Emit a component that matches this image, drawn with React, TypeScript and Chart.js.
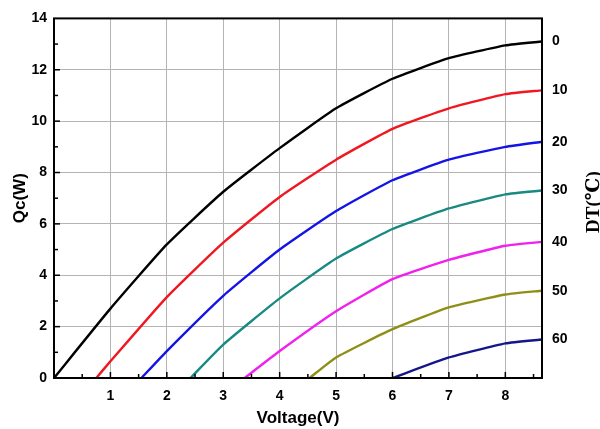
import React, { useEffect, useRef } from "react";
import { Chart, registerables } from "chart.js";

Chart.register(...registerables);

// ---- data ----
const dtLabels = ["0", "10", "20", "30", "40", "50", "60"];
const seriesColors = ["#000000", "#f01820", "#1414e6", "#178a82", "#f020ee", "#8f8f18", "#16168a"];

const dt0X = [0, 1, 2, 3, 4, 5, 6, 7, 8, 8.65];
const dt0Y = [0, 2.7, 5.2, 7.25, 8.95, 10.5, 11.65, 12.45, 12.95, 13.1];
const dt10X = [0.75, 1, 2, 3, 4, 5, 6, 7, 8, 8.65];
const dt10Y = [0, 0.65, 3.15, 5.27, 7.05, 8.5, 9.7, 10.5, 11.05, 11.2];
const dt20X = [1.55, 2, 3, 4, 5, 6, 7, 8, 8.65];
const dt20Y = [0, 1.05, 3.2, 5.0, 6.5, 7.7, 8.5, 9.0, 9.2];
const dt30X = [2.42, 3, 4, 5, 6, 7, 8, 8.65];
const dt30Y = [0, 1.3, 3.1, 4.65, 5.8, 6.6, 7.15, 7.3];
const dt40X = [3.38, 4, 5, 6, 7, 8, 8.65];
const dt40Y = [0, 1.05, 2.6, 3.85, 4.6, 5.15, 5.3];
const dt50X = [4.53, 5, 6, 7, 8, 8.65];
const dt50Y = [0, 0.8, 1.9, 2.75, 3.25, 3.4];
const dt60X = [6.0, 7, 8, 8.65];
const dt60Y = [0, 0.8, 1.35, 1.5];

const xTickValues = [1, 2, 3, 4, 5, 6, 7, 8];
const yTickValues = [0, 2, 4, 6, 8, 10, 12, 14];
const X_MIN = 0;
const X_MAX = 8.65;
const Y_MIN = 0;
const Y_MAX = 14;

const allX = [dt0X, dt10X, dt20X, dt30X, dt40X, dt50X, dt60X];
const allY = [dt0Y, dt10Y, dt20Y, dt30Y, dt40Y, dt50Y, dt60Y];

const AX_FONT = "'Liberation Sans', Arial, sans-serif";

const framePlugin = {
  id: "framePlugin",
  afterDatasetsDraw(chart: any) {
    const { ctx, chartArea } = chart;
    const xs = chart.scales.x;
    const ys = chart.scales.y;
    const { left, right, top, bottom } = chartArea;
    ctx.save();
    ctx.strokeStyle = "#000";
    ctx.lineWidth = 1.5;
    for (let v = 0.5; v < X_MAX; v += 0.5) {
      const px = xs.getPixelForValue(v);
      const len = Number.isInteger(v) ? 6 : 4;
      ctx.beginPath();
      ctx.moveTo(px, bottom);
      ctx.lineTo(px, bottom - len);
      ctx.stroke();
    }
    for (let v = 1; v < Y_MAX; v += 1) {
      const py = ys.getPixelForValue(v);
      const len = v % 2 === 0 ? 6 : 4;
      ctx.beginPath();
      ctx.moveTo(left, py);
      ctx.lineTo(left + len, py);
      ctx.stroke();
    }
    ctx.lineWidth = 2;
    ctx.strokeRect(left, top, right - left, bottom - top);
    ctx.restore();
  },
  afterDraw(chart: any) {
    const { ctx } = chart;
    ctx.save();
    ctx.translate(599, 202);
    ctx.rotate(-Math.PI / 2);
    ctx.fillStyle = "#000";
    ctx.font = "bold 19px 'Liberation Serif', 'DejaVu Serif', serif";
    ctx.textAlign = "center";
    ctx.textBaseline = "alphabetic";
    ctx.fillText("DT(\u2103)", 0, 0);
    ctx.restore();
  },
};

export default function App() {
  const ref = useRef<HTMLCanvasElement | null>(null);

  useEffect(() => {
    if (!ref.current) return;
    const endValues = allY.map((ys) => ys[ys.length - 1]);
    const chart = new Chart(ref.current, {
      type: "line",
      data: {
        datasets: allX.map((xs, i) => ({
          label: "DT " + dtLabels[i],
          data: xs.map((x, j) => ({ x, y: allY[i][j] })),
          borderColor: seriesColors[i],
          backgroundColor: seriesColors[i],
          borderWidth: 2.4,
          pointRadius: 0,
          tension: 0.15,
          fill: false,
          yAxisID: "y",
        })),
      },
      plugins: [framePlugin],
      options: {
        animation: false,
        responsive: false,
        devicePixelRatio: 1,
        layout: { padding: { top: 15, left: 0, right: 0, bottom: 0 } },
        plugins: { legend: { display: false }, tooltip: { enabled: false } },
        scales: {
          x: {
            type: "linear",
            min: X_MIN,
            max: X_MAX,
            afterBuildTicks: (s: any) => {
              s.ticks = xTickValues.map((v) => ({ value: v }));
            },
            afterFit: (s: any) => {
              s.height = 51;
            },
            grid: { color: "#b4b4b4", lineWidth: 1, drawTicks: false },
            border: { display: false },
            ticks: {
              padding: 10,
              color: "#000",
              font: { family: AX_FONT, size: 14, weight: "bold" },
              callback: (v: any) => String(v),
            },
            title: {
              display: true,
              text: "Voltage(V)",
              color: "#000",
              padding: { top: 0, bottom: 0 },
              font: { family: AX_FONT, size: 17, weight: "bold" },
            },
          },
          y: {
            type: "linear",
            position: "left",
            min: Y_MIN,
            max: Y_MAX,
            afterBuildTicks: (s: any) => {
              s.ticks = yTickValues.map((v) => ({ value: v }));
            },
            afterFit: (s: any) => {
              s.width = 54;
            },
            grid: { color: "#b4b4b4", lineWidth: 1, drawTicks: false },
            border: { display: false },
            ticks: {
              padding: 7,
              color: "#000",
              font: { family: AX_FONT, size: 14, weight: "bold" },
              callback: (v: any) => String(v),
            },
            title: {
              display: true,
              text: "Qc(W)",
              color: "#000",
              padding: { top: 10, bottom: 0 },
              font: { family: AX_FONT, size: 17, weight: "bold" },
            },
          },
          y2: {
            type: "linear",
            position: "right",
            min: Y_MIN,
            max: Y_MAX,
            afterBuildTicks: (s: any) => {
              s.ticks = endValues.map((v) => ({ value: v }));
            },
            afterFit: (s: any) => {
              s.width = 58;
            },
            grid: { display: false, drawTicks: false },
            border: { display: false },
            ticks: {
              padding: 10,
              color: "#000",
              font: { family: AX_FONT, size: 14, weight: "bold" },
              callback: (_v: any, i: number) => dtLabels[i],
            },
          },
        },
      },
    } as any);
    return () => chart.destroy();
  }, []);

  return (
    <div style={{ position: "fixed", left: 0, top: 0, width: 600, height: 429, background: "#fff" }}>
      <canvas ref={ref} width={600} height={429} />
    </div>
  );
}
